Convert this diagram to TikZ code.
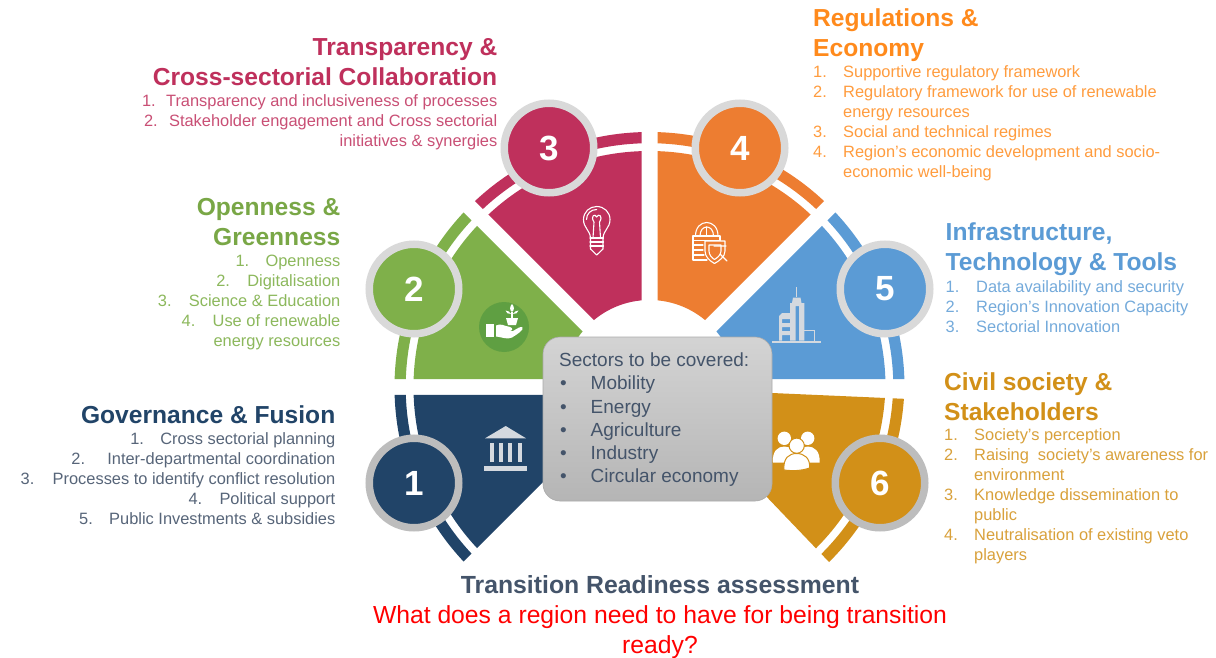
\documentclass[tikz,border=0pt]{standalone}
\usepackage{fontspec}
\setmainfont{Liberation Sans}
\definecolor{navyC}{HTML}{214468}
\definecolor{greenC}{HTML}{7FB04A}
\definecolor{magC}{HTML}{BF305C}
\definecolor{oranC}{HTML}{ED7D31}
\definecolor{oranT}{HTML}{FF8A1C}
\definecolor{blueC}{HTML}{5B9BD5}
\definecolor{goldC}{HTML}{D29018}
\definecolor{ringA}{HTML}{D9D9D9}
\definecolor{ringB}{HTML}{BDBDBD}
\definecolor{slateC}{HTML}{44546A}
\definecolor{iconG}{HTML}{D4D9DF}
\definecolor{leafC}{HTML}{5F9F42}
\newcommand{\Lh}{\rule{0pt}{15pt}}
\newcommand{\Hh}{\rule{0pt}{20pt}}
\newcommand{\nb}[2]{\makebox[#1pt][l]{#2}}
\tikzset{
  x=1pt,y=-1pt,
  badge/.style={circle,minimum size=89.5pt,inner sep=0pt,line width=7.5pt,text=white,
    font=\fontsize{35}{35}\selectfont\bfseries},
  headR/.style={anchor=north east,align=right,inner sep=0pt,font=\fontsize{24.6}{30}\selectfont\bfseries},
  headL/.style={anchor=north west,align=left,inner sep=0pt,font=\fontsize{24.6}{30}\selectfont\bfseries},
  listR/.style={anchor=north east,align=right,inner sep=0pt,font=\fontsize{16.4}{20}\selectfont},
  listL/.style={anchor=north west,align=left,inner sep=0pt,font=\fontsize{16.4}{20}\selectfont},
  iconline/.style={line width=1.1pt,line cap=round,line join=round},
}
\begin{document}
\begin{tikzpicture}
\useasboundingbox (0,0) rectangle (1216,658);
\fill[white] (0,0) rectangle (1216,658);
% ---------- sectors
\begin{scope}[shift={(649.5,387)}]
\foreach \a/\b/\c in {135/157.5/navyC,180/202.5/greenC,225/247.5/magC,270/292.5/oranC,315/337.5/blueC}{
  \begin{scope}
    \clip (\b:20.9) -- +(\a:500) -- +(\a+45:500) -- cycle;
    \fill[\c,even odd rule] (0,0) circle (236) (0,0) circle (87);
    \fill[\c,even odd rule] (0,0) circle (255) (0,0) circle (243.8);
  \end{scope}
}
\begin{scope}
  \clip (20,8.3) -- (400,405.4) -- (500,22.6) -- (20,1.5) -- cycle;
  \fill[goldC,even odd rule] (0,-6) circle (236) (0,-6) circle (87);
  \fill[goldC,even odd rule] (0,-6) circle (255) (0,-6) circle (243.8);
\end{scope}
\end{scope}
% ---------- centre box
\node[draw=ringB!90!black,line width=0.6pt,rounded corners=17pt,minimum width=229pt,minimum height=164pt,
  inner sep=0pt,top color=black!17,bottom color=black!29] (box) at (657.5,419) {};
\node[anchor=north west,align=left,inner sep=0pt,text=slateC,font=\fontsize{19}{23.2}\selectfont] (boxtext) at (559,350.5)
  {\rule{0pt}{16pt}Sectors to be covered:\\
   \makebox[31.5pt][l]{\hspace{1pt}•}Mobility\\
   \makebox[31.5pt][l]{\hspace{1pt}•}Energy\\
   \makebox[31.5pt][l]{\hspace{1pt}•}Agriculture\\
   \makebox[31.5pt][l]{\hspace{1pt}•}Industry\\
   \makebox[31.5pt][l]{\hspace{1pt}•}Circular economy};
% ---------- numbered badges
\node[badge,draw=ringB,fill=navyC] (b1) at (414,483) {1};
\node[badge,draw=ringA,fill=greenC] (b2) at (414,289) {2};
\node[badge,draw=ringA,fill=magC] (b3) at (549,148) {3};
\node[badge,draw=ringA,fill=oranC] (b4) at (740,148) {4};
\node[badge,draw=ringA,fill=blueC] (b5) at (885,289) {5};
\node[badge,draw=ringB,fill=goldC] (b6) at (880,483) {6};
% ---------- icon: bank
\fill[iconG] (505.7,426) -- (526,438.3) -- (485,438.3) -- cycle;
\fill[iconG] (484.3,466) rectangle (526.7,471);
\foreach \x in {490,499,508,517.5}{\fill[iconG] (\x,443) rectangle +(4.3,18.7);}
% ---------- icon: hand and plant
\fill[leafC] (504,327) circle (25);
\fill[white] (486,324) rectangle (494,337);
\fill[white] (496,325.5) .. controls (501,323) and (504,326) .. (510,327) .. controls (513,328) and (513,330.5) .. (510,331)
  -- (505,331) -- (513,331) .. controls (518,328) and (521,326) .. (522.5,327.5)
  .. controls (524,329.5) and (518,334) .. (512,337.5) .. controls (507,340) and (502,337) .. (496,336.5) -- cycle;
\fill[white] (506,318) -- (518,318) -- (516,325) -- (508,325) -- cycle;
\fill[white] (511.3,318) rectangle (512.7,312);
\fill[white] (512,312) .. controls (509,310) and (510,306) .. (512,304) .. controls (514,306) and (515,310) .. (512,312) -- cycle;
\fill[white] (511,314) .. controls (508,314) and (506,313) .. (505.5,310.5) .. controls (508,310.5) and (510,312) .. (511,314) -- cycle;
\fill[white] (513,314) .. controls (516,314) and (518,313) .. (518.5,310.5) .. controls (516,310.5) and (514,312) .. (513,314) -- cycle;
% ---------- icon: light bulb
\begin{scope}[iconline,white]
\draw (590.5,238) .. controls (590,230) and (583.5,228) .. (583.5,219.5)
  .. controls (583.5,212) and (589.5,206.5) .. (596.7,206.5)
  .. controls (604,206.5) and (610,212) .. (610,219.5)
  .. controls (610,228) and (603.5,230) .. (603,238) -- cycle;
\draw (586.5,219.5) .. controls (586.5,213.5) and (591,209.5) .. (596.7,209.5);
\draw (593,238) -- (594,222) .. controls (590,216) and (595,213) .. (596.7,217) .. controls (598.5,213) and (603.5,216) .. (599.5,222) -- (600.5,238);
\draw (590,238) -- (603.5,238) (590,242) -- (603.5,242) (590,246) -- (603.5,246);
\draw (590.5,238) -- (590.5,249) -- (596.7,255) -- (603,249) -- (603,238);
\end{scope}
% ---------- icon: lock and shield
\begin{scope}[iconline,white]
\draw (695.5,236) .. controls (695.5,218) and (718,218) .. (718,236);
\draw (700,236) .. controls (700,224) and (713.5,224) .. (713.5,236);
\draw (693,236) rectangle (720,240.5);
\draw (693,240.5) -- (693,260) -- (707,260);
\draw (693,245) -- (703,245) (693,250) -- (703,250) (693,255) -- (704,255);
\draw (705,241) -- (725,241) -- (725,251) .. controls (725,257) and (719,261) .. (714.5,263.5)
  .. controls (710,261) and (705,257) .. (705,251) -- cycle;
\draw (709,245) -- (721,245) -- (721,251) .. controls (721,255) and (717,258) .. (714.5,259.5)
  .. controls (712,258) and (709,255) .. (709,251) -- cycle;
\draw (714,246) -- (726,246) (720,254) -- (727,261);
\draw (706.7,227) -- (706.7,235);
\end{scope}
% ---------- icon: buildings
\fill[iconG] (772.3,340.5) rectangle (821,343);
\fill[iconG] (796.2,287) rectangle (797.2,297);
\fill[iconG] (790,340.5) -- (790,303) -- (792,303) -- (793,297.5) -- (800.5,297.5) -- (801.5,303) -- (804.3,303) -- (804.3,340.5) -- (799,340.5) -- (799,306) -- (795.5,306) -- (795.5,340.5) -- cycle;
\fill[iconG] (779,340.5) -- (779,316) -- (782,313) -- (790,313) -- (790,319) -- (782,319) -- (782,323) -- (790,323) -- (790,327) -- (782,327) -- (782,331) -- (790,331) -- (790,335) -- (782,335) -- (782,340.5) -- cycle;
\draw[iconG,line width=1.2pt] (804.3,330.5) -- (814.5,330.5) -- (814.5,340.5);
% ---------- icon: people
\fill[white] (784.3,438.3) circle (6.7) (807.7,438.3) circle (6.7);
\fill[white] (773,462.5) .. controls (772,451) and (778,446.5) .. (784.3,446.5) .. controls (791,446.5) and (797,451) .. (797,462.5) -- cycle;
\fill[white] (796,462.5) .. controls (796,451) and (802,446.5) .. (807.7,446.5) .. controls (814,446.5) and (820.5,451) .. (819.5,462.5) -- cycle;
\fill[white,draw=goldC,line width=1pt] (796.7,445.7) circle (7.6);
\fill[white,draw=goldC,line width=1pt] (784,470) .. controls (783,458) and (789,453.5) .. (796.7,453.5) .. controls (804,453.5) and (810.5,458) .. (809.5,468) .. controls (801,471) and (792,471) .. (784,470) -- cycle;
% ---------- 3 Transparency
\node[headR,text=magC] (h3) at (497.5,35) {\Hh Transparency \&\\Cross-sectorial Collaboration};
\node[listR,text=magC!85!white] (l3) at (497.5,91) {\Lh\nb{24}{1.}Transparency and inclusiveness of processes\\
  \nb{25}{2.}Stakeholder engagement and Cross sectorial\\
  initiatives \& synergies};
% ---------- 2 Openness
\node[headR,text=greenC!95!black] (h2) at (340.5,195) {\Hh Openness \&\\Greenness};
\node[listR,text=greenC!90!white] (l2) at (340.5,251) {\Lh\nb{30}{1.}Openness\\
  \nb{31}{2.}Digitalisation\\
  \nb{31}{3.}Science \& Education\\
  \nb{31}{4.}Use of renewable\\
  energy resources};
% ---------- 1 Governance
\node[headR,text=navyC] (h1) at (335.5,403) {\Hh Governance \& Fusion};
\node[listR,text=slateC!90!white] (l1) at (335.5,429.5) {\Lh\nb{30}{1.}Cross sectorial planning\\
  \nb{36}{2.}Inter-departmental coordination\\
  \nb{32}{3.}Processes to identify conflict resolution\\
  \nb{31}{4.}Political support\\
  \nb{30}{5.}Public Investments \& subsidies};
% ---------- 4 Regulations
\node[headL,text=oranT] (h4) at (813,6.5) {\Hh Regulations \&\\Economy};
\node[listL,text=oranT!85!white] (l4) at (813,62) {\Lh\nb{30}{1.}Supportive regulatory framework\\
  \nb{30}{2.}Regulatory framework for use of renewable\\
  \nb{30}{}energy resources\\
  \nb{30}{3.}Social and technical regimes\\
  \nb{30}{4.}Region’s economic development and socio-\\
  \nb{30}{}economic well-being};
% ---------- 5 Infrastructure
\node[headL,text=blueC] (h5) at (945.5,220.5) {\Hh Infrastructure,\\Technology \& Tools};
\node[listL,text=blueC!85!white] (l5) at (945.5,277) {\Lh\nb{30.5}{1.}Data availability and security\\
  \nb{30.5}{2.}Region's Innovation Capacity\\
  \nb{30.5}{3.}Sectorial Innovation};
% ---------- 6 Civil society
\node[headL,text=goldC] (h6) at (944,370) {\Hh Civil society \&\\Stakeholders};
\node[listL,text=goldC!85!white] (l6) at (944,425) {\Lh\nb{30}{1.}Society’s perception\\
  \nb{30}{2.}Raising\ \ society’s awareness for\\
  \nb{30}{}environment\\
  \nb{30}{3.}Knowledge dissemination to\\
  \nb{30}{}public\\
  \nb{30}{4.}Neutralisation of existing veto\\
  \nb{30}{}players};
% ---------- bottom
\node[inner sep=0pt,anchor=base,text=slateC,font=\fontsize{24.8}{26}\selectfont\bfseries] (t1) at (660,593) {Transition Readiness assessment};
\node[inner sep=0pt,anchor=base,text=red,font=\fontsize{24.7}{30}\selectfont] (t2) at (660,623.5) {What does a region need to have for being transition};
\node[inner sep=0pt,anchor=base,text=red,font=\fontsize{24.7}{30}\selectfont] (t3) at (660,653) {ready?};
\end{tikzpicture}
\end{document}
